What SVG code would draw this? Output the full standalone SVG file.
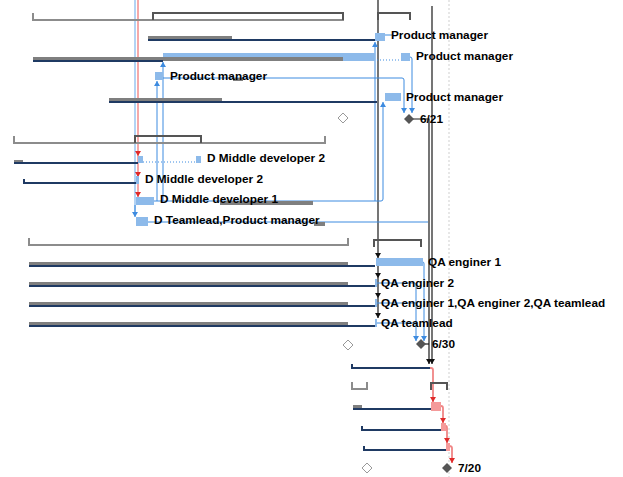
<svg xmlns="http://www.w3.org/2000/svg" width="623" height="477" viewBox="0 0 623 477">
<style>
.g{fill:#7f7f7f}
.nv{fill:#1f3a63}
.tb{fill:#8dbaea}
.pk{fill:#f49a9a}
.lb{stroke:#3d8be0;fill:none;stroke-width:1}
.lbl{stroke:#93c0ef;fill:none;stroke-width:1.4}
.lr{stroke:#ef7070;fill:none;stroke-width:1.2}
.lp{stroke:#f08585;fill:none;stroke-width:1.8}
.lk{stroke:#1a1a1a;fill:none;stroke-width:1.2}
.bg{stroke:#8c8c8c;fill:none;stroke-width:2}
.bd{stroke:#555;fill:none;stroke-width:2}
.dot{stroke:#3d8be0;fill:none;stroke-width:1;stroke-dasharray:1 2}
.ms{fill:#fff;stroke:#999;stroke-width:1}
.mk{fill:#555}
text{font-family:"Liberation Sans",Arial,sans-serif;font-weight:bold;font-size:11.8px;fill:#000}
</style>
<defs>
<marker id="ab" markerUnits="userSpaceOnUse" markerWidth="6" markerHeight="6" refX="5" refY="3" orient="auto"><path d="M0,0 L5,3 L0,6 z" fill="#3d8be0"/></marker>
<marker id="ar" markerUnits="userSpaceOnUse" markerWidth="6" markerHeight="6" refX="5" refY="3" orient="auto"><path d="M0,0 L5,3 L0,6 z" fill="#e02a2a"/></marker>
<marker id="ak" markerUnits="userSpaceOnUse" markerWidth="6" markerHeight="6" refX="5" refY="3" orient="auto"><path d="M0,0 L5,3 L0,6 z" fill="#111"/></marker>
</defs>
<rect width="623" height="477" fill="#fff"/>
<line x1="449" y1="0" x2="449" y2="477" stroke="#cfcfcf" stroke-width="1" stroke-dasharray="2 2"/>

<g id="connectors">
<path class="lk" d="M378,0 V258" marker-end="url(#ak)"/>
<path class="lk" d="M378,258 V278" marker-end="url(#ak)"/>
<path class="lk" d="M378,278 V298" marker-end="url(#ak)"/>
<path class="lk" d="M378,298 V318" marker-end="url(#ak)"/>
<path class="lk" d="M432,6 V364" marker-end="url(#ak)"/>
<path class="lk" d="M409,119 H429 V364" marker-end="url(#ak)"/>
<path class="lk" d="M421,344 H429"/>
<path class="lbl" d="M135,0 V212"/>
<path class="lb" d="M135,205 V217" marker-end="url(#ab)"/>
<path class="lr" d="M138,0 V156" marker-end="url(#ar)"/>
<path class="lr" d="M138,156 V177" marker-end="url(#ar)"/>
<path class="lr" d="M138,177 V197" marker-end="url(#ar)"/>
<path class="lb" d="M154,201 H381 Q383,201 383,199 V102" marker-end="url(#ab)"/>
<path class="lb" d="M157,201 V81" marker-end="url(#ab)"/>
<path class="lb" d="M163,201 V62" marker-end="url(#ab)"/>
<path class="lb" d="M375,201 V42" marker-end="url(#ab)"/>
<path class="lb" d="M385,35 H392"/>
<path class="lb" d="M410,57 Q412,57 412,59 V113" marker-end="url(#ab)"/>
<path class="lb" d="M163,78 H402 Q404,78 404,80 V113" marker-end="url(#ab)"/>
<path class="dot" d="M377,60 H401"/>
<path class="dot" d="M143,162 H196"/>
<path class="lb" d="M148,222 H428"/>
<path class="lb" d="M423,262 Q424,262 424,264 V341" marker-end="url(#ab)"/>
<path class="lb" d="M376,283 H414 Q416,283 416,285 V341" marker-end="url(#ab)"/>
<path class="lb" d="M376,303 H416"/>
<path class="lb" d="M376,323 H416"/>
<path class="lp" d="M430,368 H431 Q433,368 433,370 V402" marker-end="url(#ar)"/>
<path class="lp" d="M441,406 Q443,406 443,408 V423" marker-end="url(#ar)"/>
<path class="lp" d="M446,426 Q447,426 447,428 V443" marker-end="url(#ar)"/>
<path class="lp" d="M449,446 Q452,446 452,448 V463" marker-end="url(#ar)"/>
</g>

<g id="summary-top">
<path class="bg" d="M33,13 V20 H343 V13"/>
<path class="bd" d="M153,20 V13 H343 V20"/>
<path class="bd" d="M378,20 V13 H410 V20"/>
</g>

<g id="task-a">
<rect class="g" x="148" y="36" width="84" height="3"/>
<rect class="nv" x="148" y="39" width="229" height="2"/>
<rect class="tb" x="375" y="33" width="10" height="8"/>
<text x="391" y="39">Product manager</text>
</g>

<g id="task-b">
<rect class="tb" x="163" y="53" width="212" height="8"/>
<rect class="g" x="33" y="57" width="310" height="4"/>
<rect class="nv" x="33" y="60" width="130" height="2"/>
<rect class="tb" x="401" y="53" width="9" height="8"/>
<text x="416" y="60">Product manager</text>
</g>

<g id="task-c">
<rect class="tb" x="155" y="72" width="8" height="8"/>
<rect class="g" x="233" y="78" width="10" height="3"/>
<text x="170" y="80">Product manager</text>
</g>

<g id="task-d">
<rect class="g" x="109" y="98" width="113" height="3"/>
<rect class="nv" x="109" y="101" width="268" height="2"/>
<rect class="tb" x="385" y="93" width="16" height="8"/>
<text x="406" y="101">Product manager</text>
</g>

<g id="milestone-621">
<path class="ms" d="M343,113 L348,118 L343,123 L338,118 z"/>
<path class="mk" d="M409,114 L414,119 L409,124 L404,119 z"/>
<text x="420" y="123">6/21</text>
</g>

<g id="summary-dev">
<path class="bg" d="M14,136 V143 H325 V136"/>
<path class="bd" d="M135,143 V136 H201 V143"/>
</g>

<g id="task-f">
<rect class="g" x="14" y="160" width="9" height="3"/>
<rect class="nv" x="14" y="162" width="124" height="2"/>
<rect class="tb" x="138" y="156" width="5" height="7"/>
<rect class="tb" x="196" y="156" width="5" height="7"/>
<text x="207" y="162">D Middle developer 2</text>
</g>

<g id="task-g">
<rect class="nv" x="24" y="182" width="113" height="2"/>
<rect class="nv" x="23" y="179" width="2" height="5"/>
<rect class="tb" x="136" y="176" width="3" height="8"/>
<text x="145" y="183">D Middle developer 2</text>
</g>

<g id="task-h">
<rect class="tb" x="136" y="197" width="18" height="8"/>
<rect class="g" x="220" y="201" width="93" height="4"/>
<text x="160" y="203">D Middle developer 1</text>
</g>

<g id="task-i">
<rect class="tb" x="136" y="217" width="12" height="9"/>
<rect class="g" x="314" y="222" width="11" height="4"/>
<text x="154" y="224">D Teamlead,Product manager</text>
</g>

<g id="summary-qa">
<path class="bg" d="M29,238 V245 H348 V238"/>
<path class="bd" d="M374,247 V240 H421 V247"/>
</g>

<g id="task-j">
<rect class="g" x="29" y="262" width="319" height="4"/>
<rect class="nv" x="29" y="265" width="346" height="2"/>
<rect class="tb" x="376" y="258" width="47" height="8"/>
<text x="428" y="266">QA enginer 1</text>
</g>

<g id="task-k">
<rect class="g" x="29" y="282" width="319" height="4"/>
<rect class="nv" x="29" y="285" width="346" height="2"/>
<rect class="tb" x="375" y="279" width="2" height="8"/>
<text x="381" y="287">QA enginer 2</text>
</g>

<g id="task-l">
<rect class="g" x="29" y="302" width="319" height="4"/>
<rect class="nv" x="29" y="305" width="346" height="2"/>
<rect class="tb" x="375" y="299" width="2" height="8"/>
<text x="381" y="307">QA enginer 1,QA enginer 2,QA teamlead</text>
</g>

<g id="task-m">
<rect class="g" x="29" y="322" width="319" height="4"/>
<rect class="nv" x="29" y="325" width="346" height="2"/>
<rect class="tb" x="375" y="319" width="2" height="8"/>
<text x="381" y="327">QA teamlead</text>
</g>

<g id="milestone-630">
<path class="ms" d="M348,340 L353,345 L348,350 L343,345 z"/>
<path class="mk" d="M421,339 L426,344 L421,349 L416,344 z"/>
<text x="432" y="348">6/30</text>
</g>

<g id="task-n">
<rect class="nv" x="352" y="367" width="78" height="2"/>
<rect class="nv" x="351" y="364" width="2" height="5"/>
</g>

<g id="summary-bottom">
<path class="bg" d="M352,382 V389 H367 V382"/>
<path class="bd" d="M431,390 V383 H447 V390"/>
</g>

<g id="task-o">
<rect class="g" x="353" y="405" width="9" height="3"/>
<rect class="nv" x="353" y="408" width="78" height="2"/>
<rect class="pk" x="431" y="402" width="10" height="9"/>
</g>

<g id="task-p">
<rect class="nv" x="362" y="429" width="79" height="2"/>
<rect class="nv" x="361" y="426" width="2" height="5"/>
<rect class="pk" x="441" y="423" width="5" height="8"/>
</g>

<g id="task-q">
<rect class="nv" x="364" y="449" width="82" height="2"/>
<rect class="nv" x="363" y="446" width="2" height="5"/>
<rect class="pk" x="446" y="443" width="4" height="8"/>
</g>

<g id="milestone-720">
<path class="ms" d="M367,463 L372,468 L367,473 L362,468 z"/>
<path class="mk" d="M447,463 L452,468 L447,473 L442,468 z"/>
<text x="458" y="472">7/20</text>
</g>
</svg>
